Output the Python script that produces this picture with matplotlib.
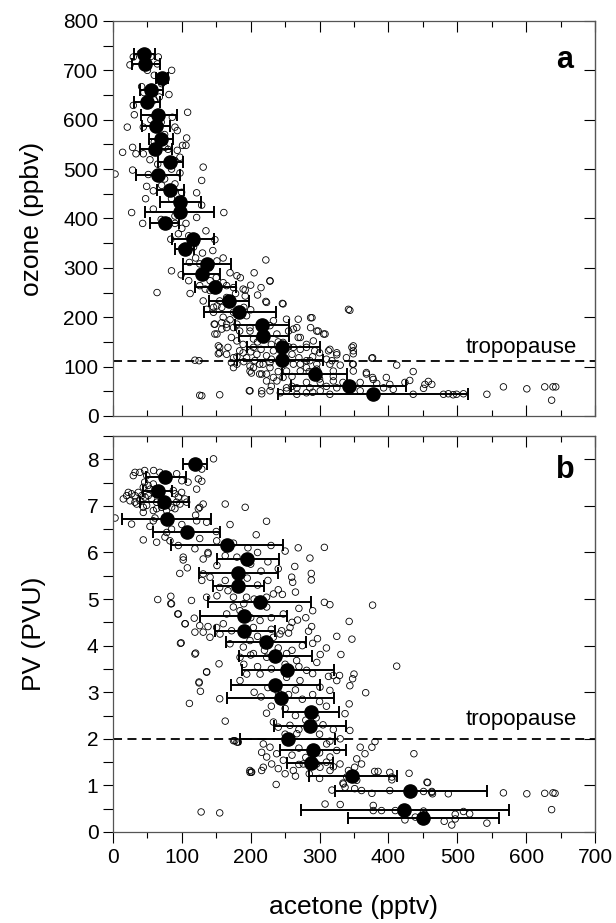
import numpy as np
import matplotlib
matplotlib.use('Agg')
import matplotlib.pyplot as plt
from matplotlib.ticker import MultipleLocator

plt.rcParams['font.family'] = ['Liberation Sans', 'DejaVu Sans']

####################################################################################################
# DATA
####################################################################################################

# panel a: bin means of ozone vs acetone, with the x-range of each error bar
o3_mean_acetone = [45.5, 46.5, 71, 55, 50, 66, 63, 70, 61, 83, 65, 83, 98, 97, 75,
                   116, 104, 136, 129, 148, 168, 183, 216, 218, 246, 245, 293, 343, 378]
o3_mean_ozone = [734, 713, 685, 661, 635, 610, 588, 561, 540, 515, 489, 458, 434, 413, 390,
                 358, 338, 308, 287, 262, 233, 210, 185, 161, 139, 113, 85, 61, 45]
o3_err_low = [31, 27, 62, 39, 31, 40, 42, 52, 39, 66, 33, 64, 68, 47, 54,
              85, 90, 102, 102, 119, 140, 132, 177, 183, 194, 180, 245, 259, 240]
o3_err_high = [61, 69, 80, 72, 68, 93, 83, 87, 85, 102, 97, 103, 128, 147, 96,
               147, 118, 171, 156, 179, 198, 237, 256, 256, 300, 305, 340, 425, 516]

# panel b: bin means of PV vs acetone
pv_mean_acetone = [119.5, 75.5, 65, 74.5, 78, 107, 165, 195, 181.5, 181.5, 213.5, 190, 191, 222,
                   235, 253, 235, 243.5, 287, 286, 254, 290, 287, 347.5, 432, 423, 450]
pv_mean_pv = [7.91, 7.63, 7.31, 7.09, 6.72, 6.43, 6.15, 5.85, 5.55, 5.28, 4.93, 4.63, 4.32, 4.07,
              3.77, 3.47, 3.16, 2.88, 2.57, 2.28, 1.99, 1.77, 1.48, 1.21, 0.88, 0.48, 0.30]
pv_err_low = [102, 47.5, 44, 39, 13.5, 58.5, 84, 150.5, 125, 145.7, 138, 126, 148, 164,
              183, 187, 171, 165, 246.5, 234, 184.5, 242.5, 253, 284.6, 322, 272.6, 341]
pv_err_high = [137, 105.6, 85, 110, 142, 156, 247, 241.5, 240, 219.7, 287, 253, 235, 280,
               289, 321, 300, 321, 328, 339, 323, 339, 320, 413, 543, 575.5, 560]

# individual samples (acetone pptv, ozone ppbv)
o3_samples = [
    (29.5, 727), (24.7, 711), (65.8, 727), (64.4, 713), (85.2, 700), (41.6, 667), (81.3, 651),
    (70.7, 673), (29.5, 629), (31, 610), (67.3, 646), (108.4, 615), (86.2, 605), (20.8, 585),
    (44, 585), (90, 585), (93.4, 578), (107, 563), (101, 548), (106, 548), (28.5, 544), (33.4, 531),
    (14, 534), (44, 531), (75.5, 544), (93.4, 538), (97.3, 524), (53.7, 519), (90, 517), (131, 504),
    (3, 490), (28.5, 498), (51.3, 489), (97.3, 492), (128.8, 477), (48.9, 465), (70.7, 467),
    (58.6, 456), (121.5, 452), (47.4, 440), (99.7, 453), (128.8, 427), (58.6, 419), (27.1, 412),
    (161, 412), (121.5, 402), (43.1, 390), (106, 390),
    (40, 735), (55, 728), (50, 700), (60, 690), (75, 680), (45, 655), (60, 640), (55, 600),
    (70, 595), (75, 570), (60, 555), (80, 540), (65, 510), (85, 500), (75, 480), (90, 470),
    (85, 440), (100, 425), (90, 405), (70, 398), (80, 395),
    (95, 369), (84, 358), (148, 357), (117, 342), (222, 316), (85, 294), (111, 311), (126, 308),
    (151, 314), (180, 284), (99, 286), (110, 274), (64, 250), (112, 248), (192, 255), (126, 264),
    (141, 274), (165, 264), (175, 260), (228, 273), (222, 232), (246, 228), (344, 214), (146, 220),
    (155, 233), (194, 203), (148, 186), (158, 176), (148, 166), (165, 179), (180, 186), (199, 179),
    (233, 193), (252, 196), (269, 196), (287, 199), (287, 179), (296, 172), (306, 166), (262, 176),
    (269, 159), (155, 139), (167, 139), (153, 126), (175, 118), (189, 128), (204, 139), (209, 125),
    (223, 122), (233, 132), (262, 139), (272, 135), (281, 139), (315, 135), (325, 124), (347, 139),
    (349, 126), (339, 118), (377, 118), (412, 103), (119, 113), (125, 112), (180, 105), (199, 101),
    (213, 105), (228, 108), (262, 105), (281, 112), (296, 105), (315, 105), (330, 103), (348, 105),
    (201, 87), (216, 85), (223, 85), (233, 78), (252, 91), (272, 91), (296, 95), (320, 91),
    (349, 91), (368, 88), (377, 78), (397, 78), (402, 64), (281, 68), (301, 68), (320, 71),
    (334, 68), (359, 68), (383, 66), (198, 51), (216, 45), (228, 51), (243, 47), (252, 57),
    (267, 44), (281, 47), (301, 51), (315, 44), (325, 57), (344, 51), (359, 51), (393, 57),
    (407, 54), (129, 41), (155, 43),
    (436, 90), (424, 68), (431, 72), (453, 64), (458, 70), (463, 64), (451, 56), (436, 44),
    (480, 44), (487, 45), (494, 43), (499, 44), (509, 45), (543, 44), (567, 59), (601, 55),
    (627, 59), (639, 59), (643, 59), (637, 32), (376, 117), (349, 142), (349, 132), (349, 105),
    (368, 85), (378, 74),
    (134, 257), (131, 233), (141, 254), (189, 257), (192, 243), (223, 230), (247, 227), (228, 274),
    (151, 223), (158, 220), (146, 210), (136, 216), (147, 186), (158, 189), (151, 166), (165, 186),
    (175, 179), (184, 172), (180, 152), (172, 159), (189, 145), (199, 172), (204, 156), (228, 183),
    (238, 166), (267, 179), (255, 172), (247, 149), (155, 128), (153, 142), (165, 125), (172, 108),
    (175, 98), (184, 132), (194, 118), (206, 112), (204, 98), (218, 105), (228, 98), (213, 85),
    (223, 71), (216, 51), (199, 51), (272, 105), (281, 98), (286, 112), (293, 132), (291, 152),
    (272, 159), (281, 145), (298, 172), (289, 199), (308, 166), (313, 132), (325, 128), (342, 216),
    (318, 112), (252, 51), (267, 57), (286, 57), (126, 42), (199, 91), (247, 78), (238, 71),
    (247, 105),
    (160, 200), (170, 195), (175, 210), (185, 205), (190, 220), (200, 215), (165, 240), (178, 248),
    (210, 245), (215, 260), (200, 265), (160, 270), (150, 280), (170, 290), (185, 280), (205, 290),
    (140, 300), (120, 320), (130, 330), (145, 335), (160, 320), (100, 340), (120, 350), (110, 365),
    (135, 375), (100, 380), (90, 390), (210, 150), (220, 160), (230, 145), (240, 150), (255, 140),
    (245, 120), (260, 125), (270, 118), (290, 120), (300, 128), (310, 115), (285, 90), (260, 80),
    (240, 90), (230, 60), (300, 75), (320, 80), (310, 60), (340, 60), (290, 48), (260, 60),
    (230, 115), (200, 130), (215, 135), (190, 110), (180, 120),
]

# individual samples (acetone pptv, PV PVU)
pv_samples = [
    (146, 8.01), (129, 7.79), (32, 7.72), (39, 7.72), (46, 7.76), (59, 7.76), (68, 7.72),
    (29.5, 7.65), (49, 7.65), (92.5, 7.69), (100, 7.54), (109, 7.51), (124, 7.58), (129, 7.53),
    (121.5, 7.36), (46, 7.51), (51, 7.44), (58.6, 7.47), (44, 7.40), (54, 7.36), (61, 7.36),
    (22.3, 7.29), (27.1, 7.26), (31.9, 7.22), (19.9, 7.22), (36.8, 7.29), (41.6, 7.22), (15, 7.15),
    (24.7, 7.11), (31.9, 7.08), (39.2, 7.11), (46.5, 7.19), (51.3, 7.22), (56.2, 7.15), (61, 7.26),
    (63.4, 7.08), (87.6, 7.33), (90, 7.26), (94.9, 7.19), (99.7, 7.29), (104.5, 7.15), (92.4, 7.08),
    (97.3, 7.04), (107, 7.08), (85.2, 6.97), (90, 6.94), (77.9, 6.90), (70.7, 6.97), (63.4, 6.94),
    (58.6, 6.90), (48.9, 7.01), (44, 6.97), (34.4, 7.04),
    (126, 6.97), (124, 6.94), (131, 7.04), (163, 7.04), (192, 6.97), (3, 6.74), (27, 6.61),
    (58.6, 6.68), (44, 6.86), (61, 6.74), (121.5, 6.68), (136, 6.65), (53.7, 6.56), (75.5, 6.33),
    (78, 6.43), (44, 6.27), (63.4, 6.22), (82.8, 6.25), (126, 6.30), (150.6, 6.25), (94.9, 6.15),
    (119, 6.08), (138, 6.00), (102, 5.90), (163, 5.93),
    (223, 6.67), (208, 6.38), (229.5, 6.15), (269, 6.10), (307, 6.11), (250, 6.03), (196, 6.10),
    (286, 5.88), (264, 5.70), (288, 5.55), (288, 5.41), (259.5, 5.47), (261, 5.36), (246, 5.10),
    (307, 4.93), (315, 4.88), (268, 4.55), (343, 4.52), (284, 4.31), (297, 4.15), (325, 4.20),
    (347, 4.14), (301, 3.81), (331, 3.81), (296, 3.64), (313, 3.34), (320, 3.36), (329, 3.36),
    (350, 3.39), (344, 3.14),
    (65, 4.99), (84, 5.06), (84, 4.90), (114, 4.97), (94, 4.68), (104.5, 4.47), (118, 4.59),
    (99, 4.06), (120, 3.84), (136, 3.44), (125, 3.20), (97, 5.55), (108, 5.67), (102, 5.84),
    (131, 5.86), (138, 5.97), (151, 5.72), (129, 5.40), (131, 5.54), (141, 5.47), (163, 5.40),
    (155, 5.25), (167, 5.18), (136, 5.04), (151, 5.07), (175, 5.04), (194, 5.04), (223, 5.04),
    (233, 5.11),
    (174.8, 4.83), (184.5, 4.75), (165.1, 4.68), (160.2, 4.47), (150.5, 4.39), (140.8, 4.18),
    (155.4, 4.25), (172.3, 4.32), (203.9, 4.39), (213.6, 4.54), (223.2, 4.83), (247.4, 4.68),
    (257.1, 4.39), (242.5, 4.25), (232.9, 4.18), (199, 4.11), (189.3, 3.97), (169.9, 4.04),
    (184.5, 3.75), (203.9, 3.83), (223.2, 3.75), (252.2, 3.83), (266.7, 3.68), (281.2, 3.47),
    (252.2, 3.32), (213.6, 3.39), (194.2, 3.39), (184.5, 3.25), (271.6, 3.25), (300.6, 3.11),
    (377, 4.87), (348, 3.29), (288.5, 4.41), (245, 4.32), (255, 4.27),
    (367, 2.99), (343, 2.75), (344, 2.18), (337, 2.54), (325, 3.25), (315, 3.04), (380.5, 1.94),
    (376, 1.82), (359, 1.82), (366, 1.68), (354, 1.57), (361, 1.46), (351, 1.39), (342, 1.32),
    (177, 1.96), (182, 1.93), (223, 2.55), (233, 2.36), (267, 2.11), (257, 2.29),
    (218.3, 1.89), (228, 1.82), (215.9, 1.71), (223.2, 1.61), (230.4, 1.46), (240.1, 1.36),
    (237.7, 1.68), (247.4, 1.54), (218.3, 1.39), (215.9, 1.32), (198.9, 1.32), (201.4, 1.29),
    (261.9, 1.32), (276.4, 1.46), (295.8, 1.46), (315.2, 1.61), (324.9, 1.75), (310.3, 1.89),
    (300.6, 1.39), (315.2, 1.32), (329.7, 1.46), (339.4, 1.18), (354, 1.11), (334.6, 1.03),
    (437, 1.68), (430, 1.26), (457, 1.06), (402, 1.28), (405, 1.18), (405, 1.12), (380, 1.30),
    (385, 1.30), (334, 1.05), (337, 0.96), (351, 0.93), (361, 0.89), (376, 0.83), (402, 0.89),
    (318, 0.90), (451, 0.87), (463, 0.87), (464, 0.82), (487, 0.82), (567, 0.84), (601, 0.82),
    (627, 0.83), (639, 0.84), (642, 0.83), (637, 0.48), (308, 0.60), (330, 0.59), (378, 0.57),
    (378, 0.46), (390, 0.46), (410, 0.46), (451, 0.45), (453, 0.38), (424, 0.26), (439, 0.32),
    (497, 0.38), (497, 0.28), (509, 0.44), (518, 0.39), (481, 0.23), (492, 0.15), (543, 0.19),
    (128, 0.43), (155, 0.41), (111, 2.76), (125, 3.22), (127, 3.02), (155, 2.86), (163, 2.38),
    (136, 3.43), (98, 4.05), (119, 3.82), (154, 3.61), (85, 4.90), (95, 4.68), (105, 4.47),
    (119, 4.29), (131, 4.29), (126, 4.43), (138, 4.41), (199, 1.28), (201, 1.28), (237, 1.02),
    (175, 1.96), (180, 1.93), (412, 3.56), (456, 1.07), (463, 0.85),
    (205, 3.0), (215, 2.9), (225, 3.1), (240, 3.0), (255, 2.95), (265, 3.05), (275, 2.85),
    (290, 2.95), (300, 2.8), (310, 2.7), (230, 2.7), (250, 2.65), (265, 2.5), (280, 2.4),
    (295, 2.45), (305, 2.3), (320, 2.2), (270, 2.2), (250, 2.1), (240, 2.25), (300, 2.1),
    (315, 1.95), (330, 2.0), (270, 1.8), (260, 1.65), (280, 1.6), (300, 1.7), (290, 1.55),
    (310, 1.5), (320, 1.4), (270, 1.45), (250, 1.25), (265, 1.2), (285, 1.25), (300, 1.15),
    (190, 3.6), (210, 3.55), (230, 3.5), (250, 3.6), (270, 3.55), (290, 3.4), (200, 3.8),
    (220, 3.9), (240, 3.95), (260, 3.9), (275, 4.0), (290, 4.05), (310, 3.95), (210, 4.2),
    (230, 4.35), (260, 4.5), (280, 4.6), (230, 4.6), (200, 4.6), (270, 4.8), (290, 4.75),
    (190, 4.9), (205, 5.0), (240, 5.2), (265, 5.15), (210, 5.3), (225, 5.4), (195, 5.45),
    (215, 5.6), (240, 5.65), (200, 5.75), (225, 5.8), (180, 5.9), (210, 6.0), (175, 6.2),
    (150, 6.45), (170, 6.6), (120, 6.8), (100, 6.6), (85, 6.5),
]

tropopause_ozone = 112
tropopause_pv = 2.0

####################################################################################################
# FIGURE
####################################################################################################

fig = plt.figure(figsize=(6.16, 9.23), dpi=100)
ax1 = fig.add_axes([0.1834, 0.5493, 0.7825, 0.4280])
ax2 = fig.add_axes([0.1834, 0.0986, 0.7825, 0.4290])


def style_axis(ax, bottom_out):
    ax.set_xlim(0, 700)
    ax.xaxis.set_major_locator(MultipleLocator(100))
    ax.xaxis.set_minor_locator(MultipleLocator(50))
    ax.tick_params(axis='x', which='both', top=True, bottom=True, direction='in')
    ax.tick_params(axis='x', which='major', length=8, width=0.8)
    ax.tick_params(axis='x', which='minor', length=4, width=0.8)
    if bottom_out:
        ax.tick_params(axis='x', which='both', bottom=True, direction='out')
        # top ticks inward: draw via secondary axis
        sec = ax.secondary_xaxis('top')
        sec.xaxis.set_major_locator(MultipleLocator(100))
        sec.xaxis.set_minor_locator(MultipleLocator(50))
        sec.tick_params(axis='x', which='both', direction='in', labeltop=False)
        sec.tick_params(axis='x', which='major', length=8, width=0.8)
        sec.tick_params(axis='x', which='minor', length=4, width=0.8)
        ax.tick_params(axis='x', which='both', top=False)
    ax.tick_params(axis='y', which='both', left=True, right=False, direction='out',
                   length=7, width=0.8)
    sec_y = ax.secondary_yaxis('right')
    sec_y.tick_params(axis='y', direction='in', length=8, width=0.8, labelright=False)
    ax.tick_params(labelsize=15)
    for s in ax.spines.values():
        s.set_linewidth(0.9)
        s.set_color('#555555')
    return sec_y


def draw_panel(ax, samples, mx, my, lo, hi, trop):
    pts = np.array(samples)
    ax.scatter(pts[:, 0], pts[:, 1], s=22, facecolors='none', edgecolors='k',
               linewidths=0.6, zorder=2)
    mx = np.array(mx)
    xerr = [mx - np.array(lo), np.array(hi) - mx]
    ax.errorbar(mx, my, xerr=xerr, fmt='o', color='k', ms=9.5, elinewidth=1.4,
                capsize=4, capthick=1.4, zorder=3)
    ax.axhline(trop, color='k', lw=1.3, linestyle=(0, (5, 3)), zorder=1)


# ---- panel a ----
draw_panel(ax1, o3_samples, o3_mean_acetone, o3_mean_ozone, o3_err_low, o3_err_high,
           tropopause_ozone)
sec1 = style_axis(ax1, bottom_out=False)
ax1.set_ylim(0, 800)
ax1.yaxis.set_major_locator(MultipleLocator(100))
ax1.yaxis.set_minor_locator(MultipleLocator(50))
sec1.yaxis.set_major_locator(MultipleLocator(100))
ax1.tick_params(axis='y', which='minor', length=7, width=0.8)
ax1.tick_params(axis='x', labelbottom=False)
ax1.set_ylabel('ozone (ppbv)', fontsize=19, labelpad=14)
ax1.text(593, 128, 'tropopause', fontsize=16, ha='center', va='baseline')
ax1.text(0.938, 0.90, 'a', transform=ax1.transAxes, fontsize=22, fontweight='bold',
         ha='center', va='center')

# ---- panel b ----
draw_panel(ax2, pv_samples, pv_mean_acetone, pv_mean_pv, pv_err_low, pv_err_high,
           tropopause_pv)
sec2 = style_axis(ax2, bottom_out=True)
ax2.set_ylim(0, 8.5)
ax2.yaxis.set_major_locator(MultipleLocator(1))
ax2.yaxis.set_minor_locator(MultipleLocator(0.5))
sec2.yaxis.set_major_locator(MultipleLocator(1))
ax2.tick_params(axis='y', which='minor', length=7, width=0.8)
ax2.set_ylabel('PV (PVU)', fontsize=19, labelpad=29)
ax2.set_xlabel('acetone (pptv)', fontsize=19, labelpad=20)
ax2.text(593, 2.3, 'tropopause', fontsize=16, ha='center', va='baseline')
ax2.text(0.938, 0.914, 'b', transform=ax2.transAxes, fontsize=22, fontweight='bold',
         ha='center', va='center')

fig.savefig('out.png', dpi=100)
